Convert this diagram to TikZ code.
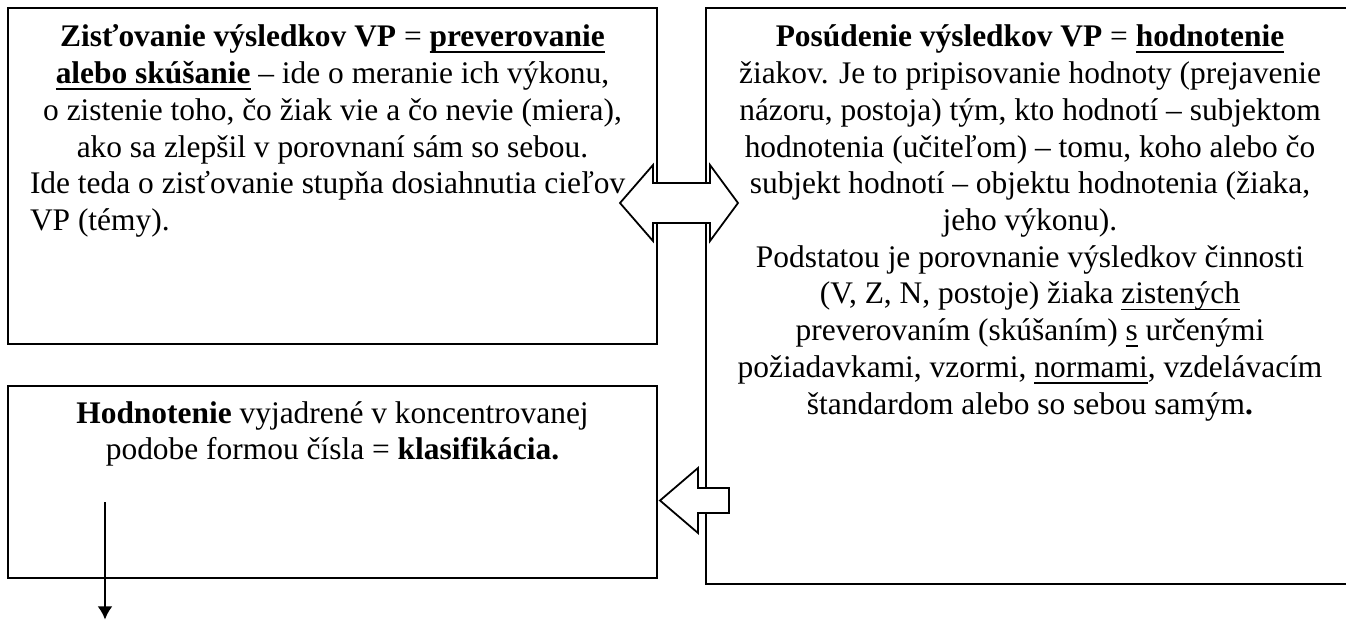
\documentclass[tikz,border=0pt]{standalone}
\usepackage{fontspec}
\setmainfont{Liberation Serif}
\usetikzlibrary{arrows.meta}
% underline with Word-like position
\newcommand{\uln}[2][0.65pt]{\setbox0\hbox{#2}\rlap{\rule[-2.7pt]{\wd0}{#1}}\box0\relax}
\tikzset{
  txt/.style={text=drawColor,anchor=base,inner sep=0pt,outer sep=0pt,font=\fontsize{13.2}{15.4}\selectfont},
  txtleft/.style={txt,anchor=base west},
  frame/.style={draw=drawColor,line width=0.75pt},
  blockarrow/.style={draw=drawColor,line width=0.75pt,line join=miter,fill=fillColor}
}
\begin{document}
\begin{tikzpicture}[x=1pt,y=1pt]
\definecolor{fillColor}{RGB}{255,255,255}
\definecolor{drawColor}{RGB}{0,0,0}
\path[use as bounding box,fill=fillColor] (0,0) rectangle (565.32,260.40);
\begin{scope}
\path[clip] (0,0) rectangle (565.32,260.40);

% boxes
\path[frame] (  3.36,257.04) rectangle (275.94,115.92);
\path[frame] (296.52,257.04) rectangle (568.68, 15.12);
\path[frame] (  3.36, 98.28) rectangle (275.94, 17.64);

% double block arrow between the top boxes
\path[blockarrow] (260.40,175.14) --
	(274.26,191.10) --
	(274.26,183.54) --
	(298.20,183.54) --
	(298.20,191.10) --
	(309.96,175.14) --
	(298.20,159.18) --
	(298.20,166.74) --
	(274.26,166.74) --
	(274.26,159.18) --
	cycle;

% block arrow towards the bottom box
\path[blockarrow] (277.20, 50.19) --
	(293.16, 63.84) --
	(293.16, 55.44) --
	(306.18, 55.44) --
	(306.18, 44.94) --
	(293.16, 44.94) --
	(293.16, 36.54) --
	cycle;

% arrow out of the bottom box
\coordinate (kstart) at ( 44.10, 49.56);
\coordinate (kend) at ( 44.10,  0.20);
\draw[draw=drawColor,line width=0.75pt,-{Latex[length=5.5pt,width=6.2pt]}] (kstart) -- (kend);
\end{scope}

% text of the top left box
\node[txt] (zl1) at (139.65,240.66) {\textbf{Zisťovanie výsledkov VP} = \textbf{\uln[1.1pt]{preverovanie}}};
\node[txt] (zl2) at (139.65,225.25) {\textbf{\uln[1.1pt]{alebo skúšanie}} – ide o meranie ich výkonu,};
\node[txt] (zl3) at (139.65,209.83) {o zistenie toho, čo žiak vie a čo nevie (miera),};
\node[txt] (zl4) at (139.65,194.42) {ako sa zlepšil v porovnaní sám so sebou.};
\node[txtleft] (zl5) at ( 12.60,179.00) {Ide teda o zisťovanie stupňa dosiahnutia cieľov};
\node[txtleft] (zl6) at ( 12.60,163.59) {VP (témy).};

% text of the right box
\node[txt] (pl1) at (432.60,240.66) {\textbf{Posúdenie výsledkov VP} = \textbf{\uln[1.1pt]{hodnotenie}}};
\node[txt] (pl2) at (432.60,225.25) {žiakov. Je to pripisovanie hodnoty (prejavenie};
\node[txt] (pl3) at (432.60,209.83) {názoru, postoja) tým, kto hodnotí – subjektom};
\node[txt] (pl4) at (432.60,194.42) {hodnotenia (učiteľom) – tomu, koho alebo čo};
\node[txt] (pl5) at (432.60,179.00) {subjekt hodnotí – objektu hodnotenia (žiaka,};
\node[txt] (pl6) at (432.60,163.59) {jeho výkonu).};
\node[txt] (pl7) at (432.60,148.18) {Podstatou je porovnanie výsledkov činnosti};
\node[txt] (pl8) at (432.60,132.76) {(V, Z, N, postoje) žiaka \uln{zistených}};
\node[txt] (pl9) at (432.60,117.35) {preverovaním (skúšaním) \uln{s} určenými};
\node[txt] (pl10) at (432.60,101.93) {požiadavkami, vzormi, \uln{normami}, vzdelávacím};
\node[txt] (pl11) at (432.60, 86.52) {štandardom alebo so sebou samým\textbf{.}};

% text of the bottom left box
\node[txt] (hl1) at (139.65, 82.74) {\textbf{Hodnotenie} vyjadrené v koncentrovanej};
\node[txt] (hl2) at (139.65, 67.33) {podobe formou čísla = \textbf{klasifikácia.}};
\end{tikzpicture}
\end{document}
